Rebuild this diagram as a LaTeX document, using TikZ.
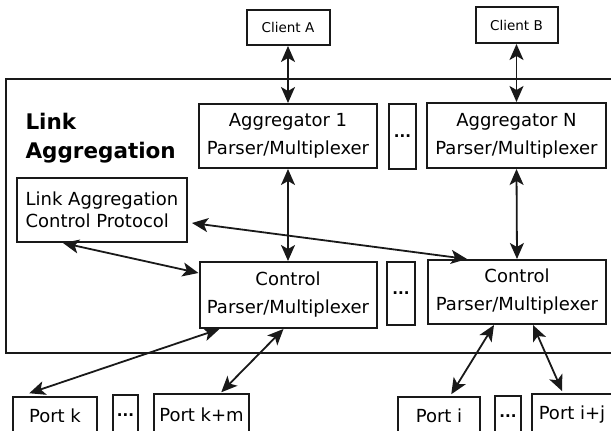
\documentclass[tikz,border=0pt]{standalone}
\usepackage{fontspec}
\setmainfont{DejaVu Sans}
\usepackage{tikz}
\usetikzlibrary{arrows.meta,positioning}

\begin{document}
\begin{tikzpicture}[x=1pt,y=-1pt,
  box/.style={draw=black!90, line width=2pt, inner sep=0pt, align=center,
              font=\fontsize{18}{28}\selectfont},
  clientbox/.style={box, font=\fontsize{13.5}{16}\selectfont},
  portbox/.style={box, line width=1.5pt},
  dotbox/.style={draw=black!90, line width=2pt, inner sep=0pt,
                 font=\fontsize{15}{18}\selectfont\bfseries},
  link/.style={line width=1.8pt, black!90,
               {Stealth[length=16pt,width=14pt,inset=4pt]}-{Stealth[length=16pt,width=14pt,inset=4pt]}}]
\useasboundingbox (0,0) rectangle (611,431);
\clip (0,0) rectangle (611,431);

% outer block
\draw[line width=2pt, black!90] (6,79) rectangle (640,353);
\node[align=left, font=\fontsize{21.5}{29}\selectfont\bfseries, anchor=west] (title) at (22,138)
  {Link\\Aggregation};

% clients
\node[clientbox, minimum width=83pt, minimum height=35pt] (clientA) at (288,27.5) {Client A};
\node[clientbox, minimum width=82pt, minimum height=36pt] (clientB) at (516.5,25) {Client B};

% aggregators
\node[box, minimum width=178pt, minimum height=64pt] (agg1) at (288,136) {Aggregator 1\\Parser/Multiplexer};
\node[dotbox, minimum width=27pt, minimum height=65pt] (dotsA) at (402.5,136.5) {...};
\node[box, minimum width=179pt, minimum height=65pt] (aggN) at (516.5,135.5) {Aggregator N\\Parser/Multiplexer};

% control
\node[box, align=left, minimum width=170pt, minimum height=64pt,
      font=\fontsize{18}{22}\selectfont] (lacp) at (102,210) {Link Aggregation\\Control Protocol};
\node[box, minimum width=177pt, minimum height=66pt] (ctl1) at (288,295) {Control\\Parser/Multiplexer};
\node[dotbox, minimum width=28pt, minimum height=63pt] (dotsB) at (401,293.5) {...};
\node[box, minimum width=178pt, minimum height=64pt] (ctl2) at (517,292) {Control\\Parser/Multiplexer};

% ports
\node[portbox, minimum width=84pt, minimum height=38pt] (portk) at (55,416) {Port k};
\node[dotbox, line width=1.5pt, minimum width=25pt, minimum height=40pt] (dotsC) at (125.5,415) {...};
\node[portbox, minimum width=95pt, minimum height=42pt] (portkm) at (201.5,415) {Port k+m};
\node[portbox, minimum width=82pt, minimum height=38pt] (porti) at (439,416) {Port i};
\node[dotbox, line width=1.5pt, minimum width=26pt, minimum height=40pt] (dotsD) at (508,416) {...};
\node[portbox, minimum width=80pt, minimum height=42pt] (portij) at (572,415) {Port i+j};

% links
\draw[link] (clientA.south) -- (agg1.north);
\draw[link] (clientB.south) -- (aggN.north);
\draw[link] (agg1.south) -- (ctl1.north);
\draw[link] (aggN.south) -- (ctl2.north);
\draw[link] ([xshift=4pt,yshift=-13pt]lacp.east) -- ([xshift=40pt]ctl2.north west);
\draw[link] ([xshift=47pt]lacp.south west) -- ([yshift=22pt]ctl1.west);
\draw[link] ([xshift=21pt]ctl1.south west) -- ([xshift=17pt,yshift=3pt]portk.north west);
\draw[link] ([xshift=85pt]ctl1.south west) -- ([xshift=68pt,yshift=1pt]portkm.north west);
\draw[link] ([xshift=67pt]ctl2.south west) -- ([xshift=54pt,yshift=2pt]porti.north west);
\draw[link] ([xshift=106pt]ctl2.south west) -- ([xshift=31pt,yshift=2pt]portij.north west);
\end{tikzpicture}
\end{document}
